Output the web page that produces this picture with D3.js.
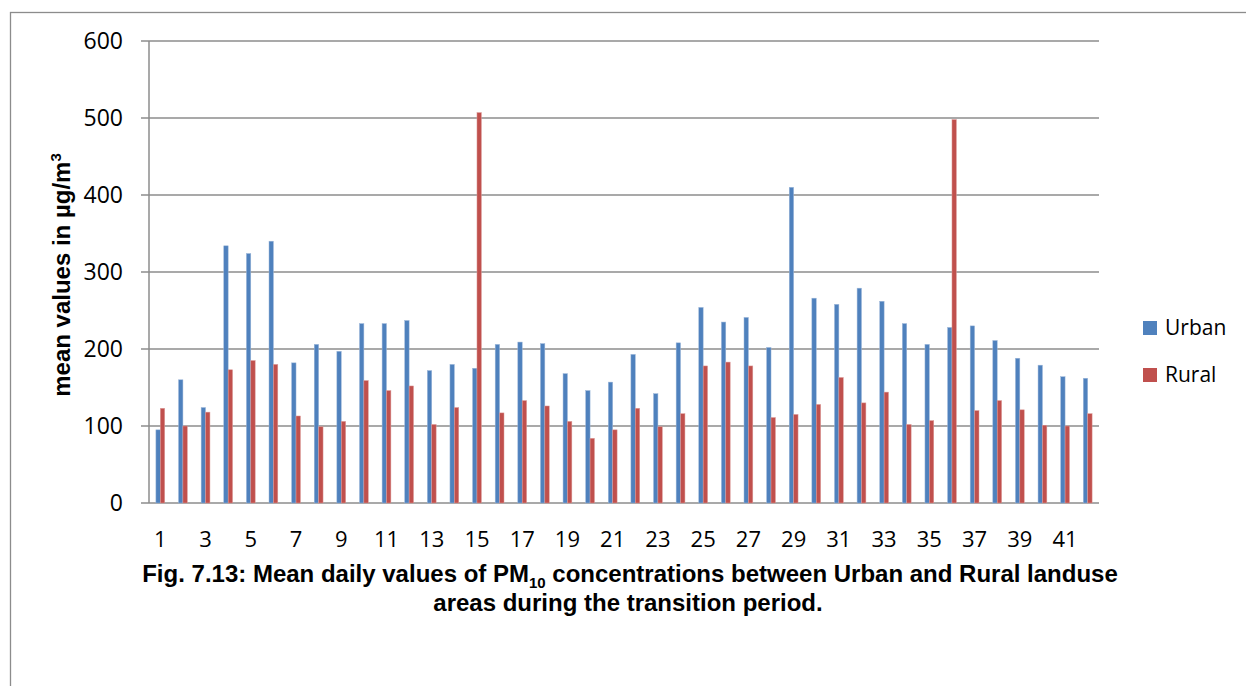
<!DOCTYPE html>
<html>
<head>
<meta charset="utf-8">
<script src="https://cdn.jsdelivr.net/npm/d3@7"></script>
<style>
  body { margin: 0; background: #fff; }
  svg { display: block; }
</style>
</head>
<body>
<svg width="1246" height="686"></svg>
<script>
// days 1..42
const days = d3.range(1, 43);
const seriesNames = ["Urban", "Rural"];
const seriesColors = ["#4F81BD", "#C0504D"];

const urban = [95, 160, 124, 334, 324, 340, 182, 206, 197, 233, 233, 237, 172, 180,
               175, 206, 209, 207, 168, 146, 157, 193, 142, 208, 254, 235, 241, 202,
               410, 266, 258, 279, 262, 233, 206, 228, 230, 211, 188, 179, 164, 162];
const rural = [123, 100, 118, 173, 185, 180, 113, 99, 106, 159, 146, 152, 102, 124,
               507, 117, 133, 126, 106, 84, 95, 123, 99, 116, 178, 183, 178, 111,
               115, 128, 163, 130, 144, 102, 107, 498, 120, 133, 121, 101, 100, 116];

const yTicks = [0, 100, 200, 300, 400, 500, 600];
const xTickLabels = days.filter(d => d % 2 === 1);

function drawGraph() {
  const svg = d3.select("svg");
  svg.selectAll("*").remove();

  const area = { left: 149, right: 1099, top: 41, bottom: 503 };
  const grid = "#8c8c8c";

  // outer frame
  svg.append("rect")
     .attr("x", 10.5).attr("y", 12.5)
     .attr("width", 1400).attr("height", 1000)
     .style("fill", "none").style("stroke", grid).style("stroke-width", 1.3);

  const scX = d3.scaleBand().domain(days).range([area.left, area.right]);
  const scY = d3.scaleLinear().domain([0, 600]).range([area.bottom, area.top]);
  const barW = 4.4;
  const scSub = d3.scaleBand().domain(seriesNames)
                  .range([(scX.bandwidth() - 2 * barW) / 2, (scX.bandwidth() + 2 * barW) / 2]);

  // gridlines + y ticks
  svg.append("g").selectAll("line")
     .data(yTicks).enter().append("line")
     .attr("x1", area.left - 8).attr("x2", area.right)
     .attr("y1", d => scY(d)).attr("y2", d => scY(d))
     .style("stroke", grid).style("stroke-width", 1.5);

  svg.append("line")
     .attr("x1", area.left).attr("x2", area.left)
     .attr("y1", area.top).attr("y2", area.bottom)
     .style("stroke", grid).style("stroke-width", 1.5);

  svg.append("g").selectAll("text")
     .data(yTicks).enter().append("text")
     .attr("x", 123).attr("y", d => scY(d))
     .attr("dy", "0.35em")
     .attr("text-anchor", "end")
     .style("font-family", "'Open Sans', sans-serif")
     .style("font-size", "23px")
     .style("fill", "#000")
     .text(d => d);

  // bars
  const rows = days.map((d, i) => ({ day: d, Urban: urban[i], Rural: rural[i] }));
  const groups = svg.append("g").selectAll("g")
     .data(rows).enter().append("g")
     .attr("transform", d => `translate(${scX(d.day)},0)`);

  groups.selectAll("rect")
     .data(d => seriesNames.map((s, k) => ({ key: s, value: d[s], k: k })))
     .enter().append("rect")
     .attr("x", d => scSub(d.key))
     .attr("width", barW)
     .attr("y", d => scY(d.value))
     .attr("height", d => area.bottom - scY(d.value))
     .style("fill", d => seriesColors[d.k])
     .style("stroke", d => d.k === 0 ? "#9db7d9" : "#dc9c9a")
     .style("stroke-width", 0.5);

  // x tick labels (odd days)
  svg.append("g").selectAll("text")
     .data(xTickLabels).enter().append("text")
     .attr("x", d => scX(d) + scX.bandwidth() / 2)
     .attr("y", 547)
     .attr("text-anchor", "middle")
     .style("font-family", "'Liberation Sans Narrow', 'Open Sans', sans-serif")
     .style("font-size", "22px")
     .text(d => d);

  // y axis title
  const yt = svg.append("text")
     .attr("transform", "translate(70,275) rotate(-90)")
     .attr("text-anchor", "middle")
     .style("font-family", "'Liberation Sans Narrow', 'Liberation Sans', sans-serif")
     .style("font-weight", "bold")
     .style("font-size", "24px");
  yt.append("tspan").text("mean values in µg/m");
  yt.append("tspan").attr("dy", -9).style("font-size", "15px").text("3");

  // legend
  const leg = svg.append("g").selectAll("g")
     .data(seriesNames).enter().append("g")
     .attr("transform", (d, i) => `translate(1143,${321 + i * 47})`);
  leg.append("rect")
     .attr("width", 14).attr("height", 14)
     .style("fill", (d, i) => seriesColors[i]);
  leg.append("text")
     .attr("x", 22).attr("y", 14)
     .style("font-family", "'Open Sans', sans-serif")
     .style("font-size", "21px")
     .text(d => d);

  // caption
  const cap = svg.append("g")
     .style("font-family", "'Liberation Sans Narrow', 'Liberation Sans', sans-serif")
     .style("font-weight", "bold")
     .style("font-size", "24px");
  const l1 = cap.append("text")
     .attr("x", 630).attr("y", 582)
     .attr("text-anchor", "middle");
  l1.append("tspan").text("Fig. 7.13: Mean daily values of PM");
  l1.append("tspan").attr("dy", 6).style("font-size", "15px").text("10");
  l1.append("tspan").attr("dy", -6).text(" concentrations between Urban and Rural landuse");
  cap.append("text")
     .attr("x", 628).attr("y", 611)
     .attr("text-anchor", "middle")
     .text("areas during the transition period.");
}

drawGraph();
</script>
</body>
</html>
